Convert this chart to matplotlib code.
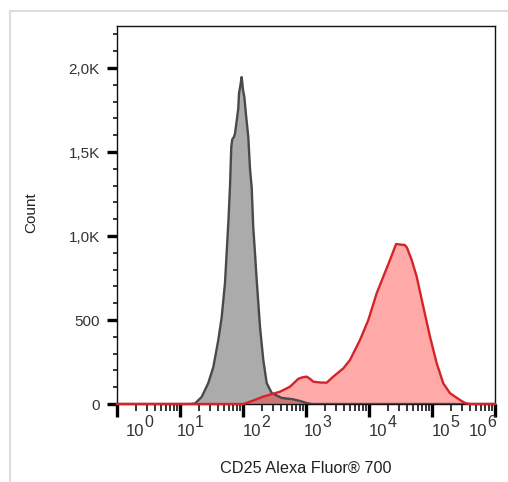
import matplotlib
matplotlib.use('Agg')
import matplotlib.pyplot as plt
import numpy as np
from matplotlib.ticker import FixedLocator, NullFormatter, LogLocator
from matplotlib.patches import Rectangle
import matplotlib.transforms as mtransforms

plt.rcParams['font.family'] = ['Liberation Sans', 'DejaVu Sans']

# ---- data (x in decades, log10 of fluorescence intensity) ----
gray_log = [0.0, 1.159, 1.238, 1.344, 1.449, 1.529, 1.608, 1.662, 1.714, 1.770, 1.794,
            1.814, 1.830, 1.857, 1.873, 1.905, 1.925, 1.937, 1.960, 1.979, 2.000,
            2.021, 2.048, 2.084, 2.111, 2.138, 2.163, 2.190, 2.217, 2.270, 2.322,
            2.376, 2.456, 2.614, 2.794, 2.905, 3.016, 3.095, 6.0]
gray_count = [0, 0, 3, 42, 125, 220, 381, 518, 720, 1100, 1300,
              1530, 1575, 1590, 1610, 1700, 1760, 1850, 1900, 1946, 1870,
              1829, 1720, 1590, 1400, 1290, 1050, 900, 740, 458, 262,
              125, 65, 36, 28, 18, 5, 0, 0]

red_log = [0.0, 2.005, 2.159, 2.322, 2.587, 2.746, 2.878, 2.937, 3.011, 3.063, 3.116,
           3.222, 3.329, 3.433, 3.592, 3.698, 3.857, 3.989, 4.122, 4.227, 4.333,
           4.429, 4.571, 4.603, 4.678, 4.757, 4.862, 4.968, 5.075, 5.179, 5.286,
           5.444, 5.524, 5.603, 6.0]
red_count = [0, 0, 20, 44, 73, 103, 150, 158, 163, 150, 133,
             128, 127, 163, 212, 262, 381, 500, 659, 758, 857,
             952, 946, 930, 857, 758, 579, 401, 242, 123, 64,
             24, 6, 0, 0]

y_major = [0, 500, 1000, 1500, 2000]
y_labels = ['0', '500', '1,0K', '1,5K', '2,0K']
decades = [0, 1, 2, 3, 4, 5, 6]
x_label_shift = [0.286, 0.095, 0.143, 0.111, 0.143, 0.143, -0.27]  # layout offsets (decades)

fig = plt.figure(figsize=(5.08, 4.82), dpi=100)
ax = fig.add_axes([117/508, 78/482, 378/508, 378/482])

gx = 10 ** np.array(gray_log)
rx = 10 ** np.array(red_log)
ax.fill_between(gx, gray_count, color='#ABABAB', linewidth=0, zorder=1)
ax.fill_between(rx, red_count, color='#FF2A2A', alpha=0.4, linewidth=0, zorder=2)
ax.plot(gx, gray_count, color='#4A4A4A', lw=1.7, zorder=3)
ax.plot(rx, red_count, color='#D42429', lw=1.7, zorder=4, clip_on=False)

ax.set_xscale('log')
ax.set_xlim(1, 1e6)
ax.set_ylim(0, 2250)

# y ticks
ax.yaxis.set_major_locator(FixedLocator(y_major))
ax.set_yticklabels(y_labels)
ax.yaxis.set_minor_locator(FixedLocator([v for v in range(100, 2300, 100) if v % 500 != 0]))
ax.tick_params(axis='y', which='major', direction='out', length=7.5, width=2.4,
               labelsize=11, labelcolor='#333333', pad=5)
ax.tick_params(axis='y', which='minor', direction='out', length=3.2, width=1.1)

# x ticks
ax.xaxis.set_major_locator(FixedLocator([10.0 ** d for d in decades]))
ax.xaxis.set_major_formatter(NullFormatter())
ax.xaxis.set_minor_locator(LogLocator(base=10, subs=np.arange(2, 10), numticks=20))
ax.xaxis.set_minor_formatter(NullFormatter())
ax.tick_params(axis='x', which='major', direction='out', length=9, width=2.4)
ax.tick_params(axis='x', which='minor', direction='out', length=4.8, width=1.1)

trans = mtransforms.blended_transform_factory(ax.transData, ax.transAxes)
for d, s in zip(decades, x_label_shift):
    xpos = 10 ** (d + s)
    ax.text(xpos, -0.074, '10', transform=trans, ha='center', va='center',
            fontsize=12, color='#333333')
    ax.annotate(str(d), xy=(xpos, -0.050), xycoords=trans, xytext=(6.6, 0),
                textcoords='offset points', ha='left', va='center',
                fontsize=11.5, color='#333333', annotation_clip=False)

for sp in ax.spines.values():
    sp.set_linewidth(1.0)
    sp.set_color('#111111')

ax.set_xlabel('CD25 Alexa Fluor® 700', fontsize=11.7, color='#222222', va='center')
ax.xaxis.set_label_coords(0.5, -0.169)
ax.set_ylabel('Count', fontsize=11, color='#222222', va='center')
ax.yaxis.set_label_coords(-0.228, 0.505)

fig.add_artist(Rectangle((10/508, -0.1), 1.2, (482 - 11)/482 + 0.1,
                         transform=fig.transFigure, fill=False,
                         ec='#DDDDDD', lw=1.5))

fig.savefig('out.png', dpi=100)
